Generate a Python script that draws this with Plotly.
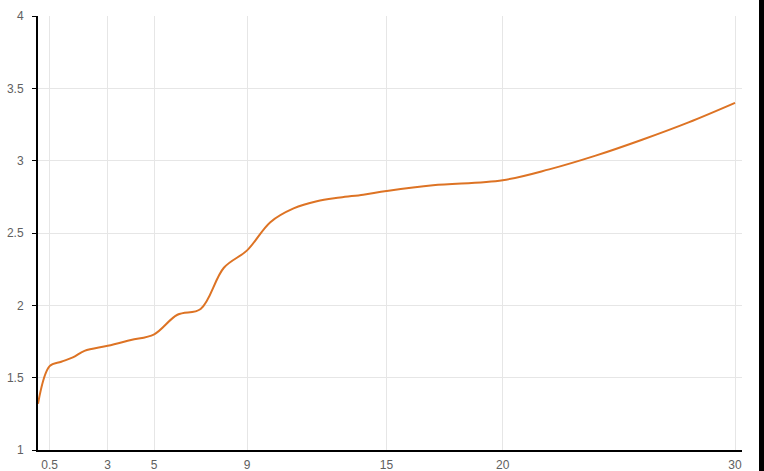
import plotly.graph_objects as go

x_vals = [0, 0.5, 1, 1.5, 2, 3, 4, 5, 6, 7, 8, 9, 10, 11, 12, 13, 14, 15, 17, 20, 22, 24, 26, 28, 30]
y_vals = [1.32, 1.58, 1.61, 1.64, 1.685, 1.72, 1.76, 1.80, 1.935, 1.975, 2.26, 2.38, 2.575, 2.67,
          2.72, 2.745, 2.765, 2.79, 2.83, 2.865, 2.94, 3.035, 3.145, 3.265, 3.40]
x_ticks = [0.5, 3, 5, 9, 15, 20, 30]
y_ticks = [1, 1.5, 2, 2.5, 3, 3.5, 4]

fig = go.Figure()
fig.add_trace(go.Scatter(
    x=x_vals, y=y_vals, mode="lines",
    line=dict(color="#dd7324", width=2, shape="spline", smoothing=1.0),
    hoverinfo="x+y", showlegend=False,
))

font = dict(family="Liberation Sans, Arial, sans-serif", size=12, color="#606060")
fig.update_layout(
    template="none",
    width=764, height=471,
    margin=dict(l=38, r=22, t=16, b=21, pad=0),
    paper_bgcolor="white", plot_bgcolor="white",
    font=font,
    xaxis=dict(
        range=[0, 30.3], tickmode="array", tickvals=x_ticks,
        ticktext=[str(t) for t in x_ticks],
        showgrid=True, gridcolor="#e6e6e6", gridwidth=1,
        showline=True, linecolor="#000000", linewidth=2,
        ticks="", zeroline=False, fixedrange=True, automargin=False,
        ticklabelstandoff=3,
    ),
    yaxis=dict(
        range=[1, 4], tickmode="array", tickvals=y_ticks,
        ticktext=[str(t) for t in y_ticks],
        showgrid=True, gridcolor="#e6e6e6", gridwidth=1,
        showline=True, linecolor="#000000", linewidth=2,
        ticks="outside", ticklen=4, tickcolor="#000000", tickwidth=1,
        zeroline=False, fixedrange=True, automargin=False,
        ticklabelstandoff=6,
    ),
    shapes=[dict(type="rect", xref="paper", yref="paper",
                 x0=(759 - 38) / 704, x1=1.1, y0=-0.2, y1=1.2,
                 fillcolor="#000000", line=dict(width=0), layer="above")],
)

fig.write_html("out.html", config={"displayModeBar": False},
               post_script="document.body.style.margin='0';document.body.style.overflow='hidden';")
